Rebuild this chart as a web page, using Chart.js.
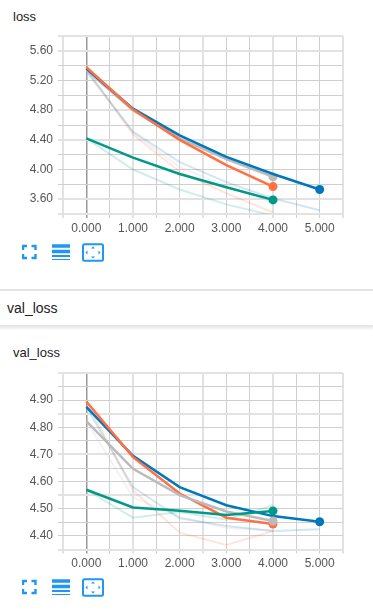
<!DOCTYPE html>
<html>
<head>
<meta charset="utf-8">
<title>loss</title>
<script src="https://cdn.jsdelivr.net/npm/chart.js@4"></script>
<style>
  html, body { margin: 0; padding: 0; background: #fff; overflow: hidden; }
  body { width: 373px; height: 612px; position: relative; font-family: "Liberation Sans", sans-serif; color: #222; }
  canvas { position: absolute; left: 0; }
  .title { position: absolute; left: 13px; font-size: 13px; line-height: 16px; }
  .section { position: absolute; left: 0; width: 373px; top: 289px; height: 34px; box-sizing: content-box;
    border-top: 2px solid #e2e2e2; border-bottom: 2px solid #e6e6e6; box-shadow: 0 2px 2px #eee; }
  .section span { position: absolute; left: 7px; top: 9px; font-size: 14px; line-height: 16px; }
  svg { position: absolute; }
</style>
</head>
<body>
<div class="title" style="top:9px">loss</div>
<canvas id="lossChart" width="373" height="240" style="top:0"></canvas>

<svg style="left:22px;top:243px" width="84" height="19" fill="none" stroke="#2196f3">
  <path stroke-width="2.4" d="M1 7V3H5M9.500 3H13.500V7M13.500 11V15H9.500M5 15H1V11" />
  <path stroke-width="3.4" d="M30 3H48M30 8.500H48" />
  <path stroke-width="2" d="M30 13H48" />
  <path stroke-width="1" d="M30 16.500H48" />
  <rect x="61" y="1.200" width="20" height="16.600" rx="1.500" stroke-width="2" />
  <path stroke="none" fill="#2196f3" d="M71 3.500l2 2h-4zM71 15.500l2-2h-4zM63.500 9.500l2-2v4zM78.500 9.500l-2-2v4z" />
</svg>

<div class="section"><span>val_loss</span></div>

<div class="title" style="top:345px">val_loss</div>
<canvas id="valLossChart" width="373" height="275" style="top:337px"></canvas>

<svg style="left:22px;top:578px" width="84" height="19" fill="none" stroke="#2196f3">
  <path stroke-width="2.4" d="M1 7V3H5M9.500 3H13.500V7M13.500 11V15H9.500M5 15H1V11" />
  <path stroke-width="3.4" d="M30 3H48M30 8.500H48" />
  <path stroke-width="2" d="M30 13H48" />
  <path stroke-width="1" d="M30 16.500H48" />
  <rect x="61" y="1.200" width="20" height="16.600" rx="1.500" stroke-width="2" />
  <path stroke="none" fill="#2196f3" d="M71 3.500l2 2h-4zM71 15.500l2-2h-4zM63.500 9.500l2-2v4zM78.500 9.500l-2-2v4z" />
</svg>

<script>
// steps on the x axis
var xTickLabels = ['0.000', '1.000', '2.000', '3.000', '4.000', '5.000'];

// loss, smoothed
var lossGreen = [4.42, 4.16, 3.94, 3.76, 3.59];
var lossBlue = [5.36, 4.82, 4.46, 4.17, 3.94, 3.73];
var lossGrey = [5.34, 4.80, 4.42, 4.14, 3.90];
var lossOrange = [5.38, 4.81, 4.40, 4.06, 3.77];
// loss, raw (faint)
var lossGreenRaw = [4.42, 4.00, 3.73, 3.53, 3.38];
var lossBlueRaw = [5.33, 4.51, 4.10, 3.83, 3.61, 3.45];
var lossGreyRaw = [5.32, 4.50, 4.03, 3.78, 3.55];
var lossOrangeRaw = [5.36, 4.47, 3.97, 3.68, 3.42];
var lossTicks = ['5.60', '5.20', '4.80', '4.40', '4.00', '3.60'];

// val_loss, smoothed
var valGreen = [4.57, 4.505, 4.493, 4.477, 4.492];
var valBlue = [4.875, 4.695, 4.58, 4.513, 4.473, 4.452];
var valGrey = [4.823, 4.647, 4.55, 4.49, 4.455];
var valOrange = [4.895, 4.69, 4.556, 4.467, 4.444];
// val_loss, raw (faint)
var valGreenRaw = [4.57, 4.467, 4.488, 4.46, 4.513];
var valBlueRaw = [4.875, 4.58, 4.465, 4.437, 4.418, 4.425];
var valGreyRaw = [4.823, 4.543, 4.47, 4.43, 4.42];
var valOrangeRaw = [4.895, 4.568, 4.412, 4.367, 4.418];
var valTicks = ['4.90', '4.80', '4.70', '4.60', '4.50', '4.40'];

var GREEN = '0,153,136', BLUE = '0,119,187', GREY = '187,187,187', ORANGE = '255,112,67';

// which grid lines came out wide and pale in the screenshot, the rest are thin and darker
var xPale = [-0.5, 1, 2.5, 4, 5.5];
var lossPale = [5.8, 5.6, 4.8, 4.4, 3.6, 3.4];
var valPale = [5.0, 4.85, 4.7, 4.55, 4.35];

function line(values, rgb, raw) {
  return {
    data: values.map(function (v, i) { return { x: i, y: v }; }),
    borderColor: 'rgba(' + rgb + ',' + (raw ? 0.18 : 1) + ')',
    backgroundColor: 'rgb(' + rgb + ')',
    borderWidth: raw ? 2 : 2.5,
    tension: 0,
    pointBorderWidth: 0,
    pointHoverRadius: 0,
    pointRadius: function (c) { return !raw && c.dataIndex === values.length - 1 ? 4.5 : 0; }
  };
}

function isIn(list, v) {
  return list.some(function (p) { return Math.abs(p - v) < 0.001; });
}

function makeChart(id, series, yMin, yMax, yStep, yTicks, yPale, bottom) {
  var gridColor = function (pale, zeroAxis) {
    return function (c) {
      if (zeroAxis && Math.abs(c.tick.value) < 0.001) return '#999';
      return isIn(pale, c.tick.value) ? '#e2e2e2' : '#cfcfcf';
    };
  };
  var gridWidth = function (pale, zeroAxis) {
    return function (c) {
      if (zeroAxis && Math.abs(c.tick.value) < 0.001) return 1.5;
      return isIn(pale, c.tick.value) ? 2 : 1;
    };
  };
  return new Chart(document.getElementById(id).getContext('2d'), {
    type: 'line',
    data: { datasets: series },
    options: {
      responsive: false,
      animation: false,
      layout: { padding: { top: 36, right: 30, left: 0, bottom: 0 } },
      plugins: { legend: { display: false }, tooltip: { enabled: false } },
      scales: {
        x: {
          type: 'linear',
          min: -0.5,
          max: 5.5,
          afterFit: function (s) { s.height = bottom; },
          border: { display: false },
          grid: { color: gridColor(xPale, true), lineWidth: gridWidth(xPale, true), tickLength: 4 },
          ticks: {
            stepSize: 0.5,
            maxRotation: 0,
            autoSkip: false,
            color: '#555',
            font: { family: 'Liberation Sans', size: 12 },
            padding: 3,
            callback: function (v) { return Number.isInteger(v) ? xTickLabels[v] : ''; }
          }
        },
        y: {
          min: yMin,
          max: yMax,
          afterFit: function (s) { s.width = 63; },
          border: { display: false },
          grid: { color: gridColor(yPale, false), lineWidth: gridWidth(yPale, false), tickLength: 5 },
          ticks: {
            stepSize: yStep,
            autoSkip: false,
            color: '#555',
            font: { family: 'Liberation Sans', size: 12 },
            padding: 5,
            callback: function (v) {
              var t = v.toFixed(2);
              return yTicks.indexOf(t) >= 0 ? t : '';
            }
          }
        }
      }
    }
  });
}

// first dataset is painted on top
makeChart('lossChart', [
  line(lossGreen, GREEN), line(lossOrange, ORANGE), line(lossBlue, BLUE), line(lossGrey, GREY),
  line(lossGreenRaw, GREEN, true), line(lossBlueRaw, BLUE, true), line(lossOrangeRaw, ORANGE, true), line(lossGreyRaw, GREY, true)
], 3.4, 5.8, 0.2, lossTicks, lossPale, 26);

makeChart('valLossChart', [
  line(valGreen, GREEN), line(valGrey, GREY), line(valOrange, ORANGE), line(valBlue, BLUE),
  line(valGreenRaw, GREEN, true), line(valBlueRaw, BLUE, true), line(valOrangeRaw, ORANGE, true), line(valGreyRaw, GREY, true)
], 4.35, 5.0, 0.05, valTicks, valPale, 62.5);
</script>
</body>
</html>
